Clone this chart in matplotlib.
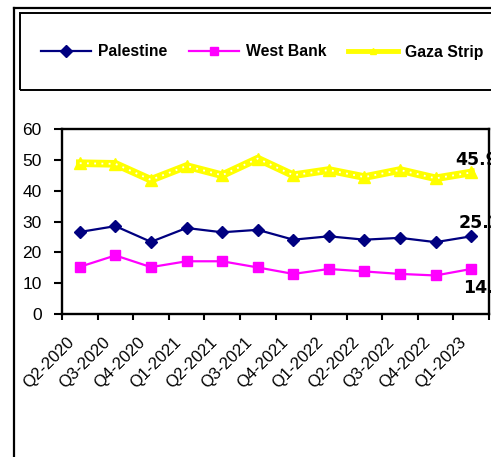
import matplotlib.pyplot as plt
import matplotlib.transforms as mtransforms
from matplotlib.lines import Line2D
from matplotlib.patches import Rectangle

# quarters on the x axis
quarters = ["Q2-2020", "Q3-2020", "Q4-2020", "Q1-2021", "Q2-2021", "Q3-2021",
            "Q4-2021", "Q1-2022", "Q2-2022", "Q3-2022", "Q4-2022", "Q1-2023"]

# values
palestine = [26.6, 28.5, 23.4, 27.9, 26.5, 27.3, 24.1, 25.2, 24.1, 24.7, 23.3, 25.2]
west_bank = [15.3, 19.0, 15.2, 17.1, 17.1, 15.1, 13.0, 14.6, 13.8, 13.0, 12.5, 14.6]
gaza = [48.9, 48.7, 43.5, 48.0, 45.0, 50.4, 45.0, 46.7, 44.4, 46.7, 44.0, 45.9]

navy = "#000080"
magenta = "#FF00FF"
yellow = "#FFFF00"

plt.rcParams['font.family'] = ['Liberation Sans', 'DejaVu Sans']

fig = plt.figure(figsize=(4.91, 4.57), dpi=100)
W, H = 491, 457

# outer frame (left and top edges only are visible)
fig.add_artist(Line2D([14 / W, 14 / W], [0, 1 - 8 / H], color="black", lw=1.6,
                      transform=fig.transFigure))
fig.add_artist(Line2D([14 / W, 1], [1 - 8 / H, 1 - 8 / H], color="black", lw=1.6,
                      transform=fig.transFigure))
# legend box
fig.add_artist(Rectangle((19.5 / W, 1 - 90 / H), 1.0, (90 - 12.5) / H, fill=False,
                         edgecolor="black", lw=1.4, transform=fig.transFigure))

ax = fig.add_axes([62 / W, 1 - 314 / H, (489 - 62) / W, (314 - 129) / H])

x = list(range(len(quarters)))
ax.plot(x, gaza, color=yellow, lw=5.5, marker="^", markersize=8, zorder=2)
ax.plot(x, gaza, color="white", lw=1.3, ls=(0, (1, 3)), zorder=3)
ax.plot(x, palestine, color=navy, lw=1.6, marker="D", markersize=6.5, zorder=4)
ax.plot(x, west_bank, color=magenta, lw=1.6, marker="s", markersize=6.5, zorder=4)

# end-point value labels
lab_font = dict(family="DejaVu Sans", fontweight="bold", fontsize=12.5,
                color="black", va="baseline", ha="left", clip_on=False)
ax.annotate(f"{gaza[-1]:.1f}", (x[-1], gaza[-1]), xytext=(-16, 7),
            textcoords="offset pixels", **lab_font)
ax.annotate(f"{palestine[-1]:.1f}", (x[-1], palestine[-1]), xytext=(-13, 8),
            textcoords="offset pixels", **lab_font)
ax.annotate(f"{west_bank[-1]:.1f}", (x[-1], west_bank[-1]), xytext=(-8, -24),
            textcoords="offset pixels", **lab_font)

ax.set_xlim(-0.5, len(quarters) - 0.5)
ax.set_ylim(0, 60)
ax.set_yticks(range(0, 61, 10))
ax.tick_params(axis="y", direction="out", length=6, width=1.5, pad=8.5, labelsize=12.5)

# ticks between categories, labels at category centres
ax.set_xticks([i - 0.5 for i in range(len(quarters) + 1)])
ax.set_xticklabels([])
ax.set_xticks(x, minor=True)
ax.set_xticklabels(quarters, minor=True, rotation=45, ha="right", va="top",
                   rotation_mode="anchor", fontsize=12)
ax.tick_params(axis="x", which="major", direction="out", length=4.5, width=1.5)
ax.tick_params(axis="x", which="minor", length=0, pad=9)
shift = mtransforms.ScaledTranslation(-13 / 100, -8 / 100, fig.dpi_scale_trans)
for lbl in ax.get_xticklabels(minor=True):
    lbl.set_transform(lbl.get_transform() + shift)

for s in ax.spines.values():
    s.set_linewidth(1.7)

handles = [
    Line2D([], [], color=navy, lw=1.6, marker="D", markersize=6),
    Line2D([], [], color=magenta, lw=1.6, marker="s", markersize=6),
    Line2D([], [], color=yellow, lw=3.5, marker="^", markersize=4),
]
fig.legend(handles, ["Palestine", "West Bank", "Gaza Strip"], ncol=3,
           loc="center left", bbox_to_anchor=(41 / W, 1 - 52 / H),
           frameon=False, borderpad=0, borderaxespad=0, handlelength=3.2,
           handletextpad=0.45, columnspacing=1.35,
           prop={"weight": "bold", "size": 11.3})

fig.savefig("out.png", dpi=100)
